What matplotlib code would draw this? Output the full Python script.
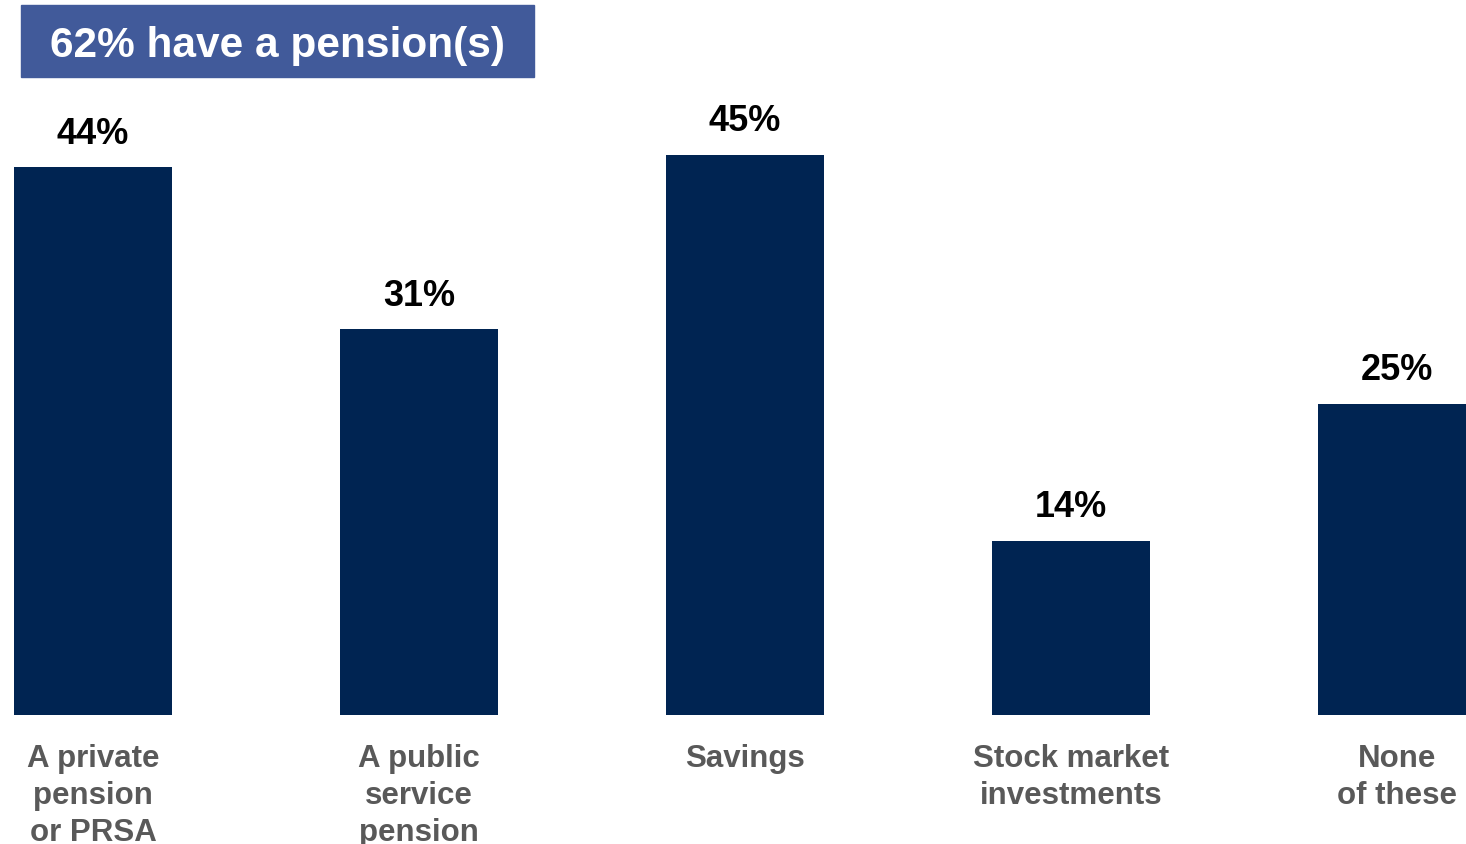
import matplotlib
matplotlib.use("Agg")
import matplotlib.pyplot as plt
from matplotlib.patches import Rectangle

# Chart data
categories = ["A private\npension\nor PRSA", "A public\nservice\npension",
              "Savings", "Stock market\ninvestments", "None\nof these"]
values = [44, 31, 45, 14, 25]
title = "62% have a pension(s)"

bar_color = "#002452"
box_color = "#415A9A"
label_grey = "#595959"

plt.rcParams['font.family'] = ['Liberation Sans', 'DejaVu Sans']

fig = plt.figure(figsize=(14.66, 8.45), dpi=100)
ax = fig.add_axes([0, 129 / 845, 1, 716 / 845])

x = list(range(len(values)))
ax.bar(x, values, width=0.485, color=bar_color)
ax.set_xlim(-93 / 326, (1466 - 93) / 326)
ax.set_ylim(0, 716 / 12.45)
ax.axis("off")

# value labels above bars
for xi, v in zip(x, values):
    ax.annotate(f"{v}%", xy=(xi, v), xytext=(0, 17.5), textcoords="offset points",
                ha="center", va="baseline", fontsize=26, fontweight="bold",
                color="black")

# category labels below bars
for xi, cat in zip(x, categories):
    ax.annotate(cat, xy=(xi, 0), xytext=(0, -20), textcoords="offset points",
                ha="center", va="top", fontsize=22.5, fontweight="bold",
                color=label_grey, linespacing=1.3, annotation_clip=False)

# title box
fig.patches.append(Rectangle((21 / 1466, 1 - 78 / 845), 513 / 1466, 72 / 845,
                             transform=fig.transFigure, color=box_color, zorder=0))
fig.text(277.5 / 1466, 1 - 46 / 845, title, ha="center", va="center",
         fontsize=30.5, fontweight="bold", color="white")

fig.savefig("out.png", dpi=100)
